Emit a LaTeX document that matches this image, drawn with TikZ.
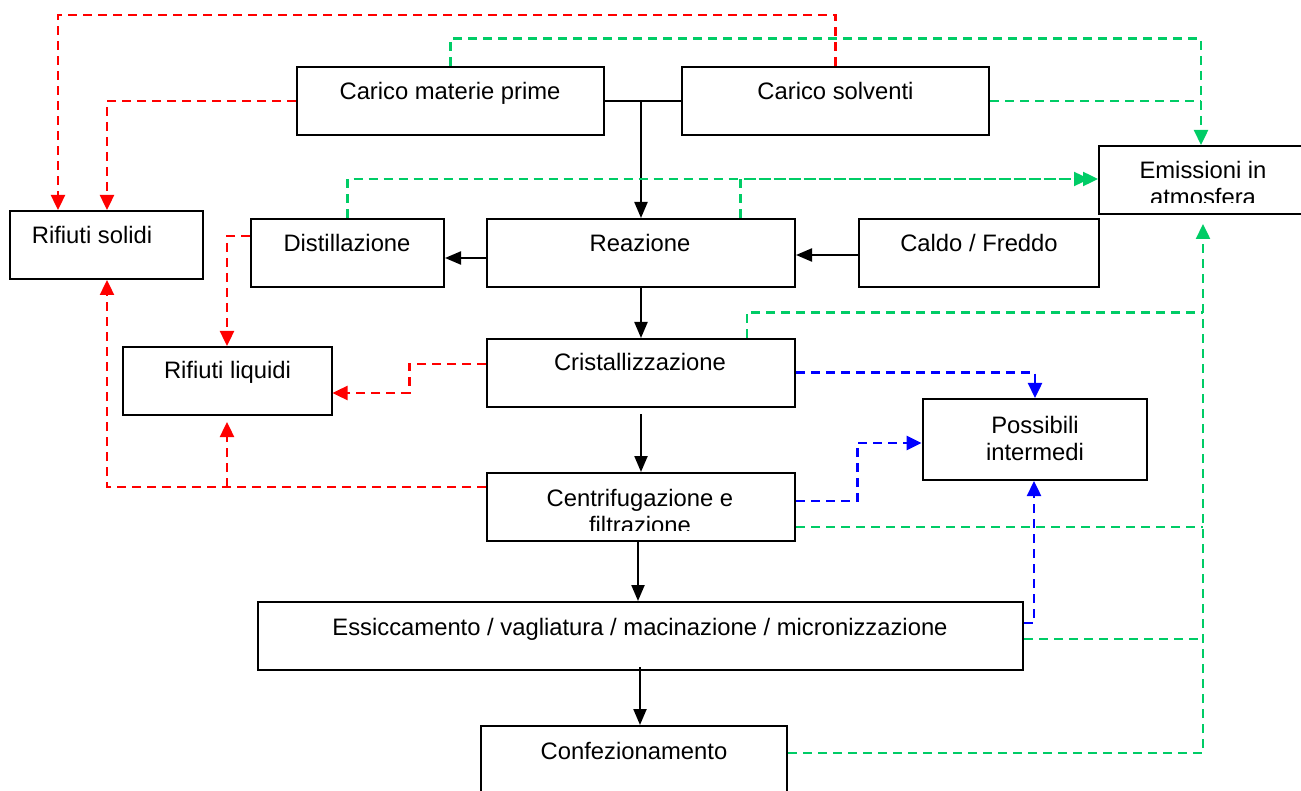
\documentclass[tikz,border=0pt]{standalone}
\usepackage{fontspec}
\setmainfont{Liberation Sans}
\usetikzlibrary{arrows.meta}
\definecolor{gr}{RGB}{0,204,102}
\begin{document}
\begin{tikzpicture}[x=1pt,y=-1pt,
  box/.style={draw, line width=2pt, inner sep=0pt},
  txt/.style={inner sep=0pt, anchor=base, font=\fontsize{23.8}{27}\selectfont},
  flow/.style={line width=2.2pt, -{Triangle[length=16pt,width=13pt]}},
  plain/.style={line width=2.2pt},
  rd/.style={draw=red, line width=2.4pt, dash pattern=on 9pt off 6pt},
  gd/.style={draw=gr, line width=2.4pt, dash pattern=on 9pt off 6pt},
  bd/.style={draw=blue, line width=2.4pt, dash pattern=on 9pt off 6pt},
  tipr/.style={-{Triangle[length=15pt,width=14pt]}},
]
\useasboundingbox (0,0) rectangle (1301,791);
\clip (0,0) rectangle (1301,791);

% boxes
\node[box, minimum width=307pt, minimum height=68pt] (cmp) at (450.5,101) {};
\node[box, minimum width=307pt, minimum height=68pt] (cs) at (835.5,101) {};
\node[box, minimum width=193pt, minimum height=68pt] (rs) at (106.5,245) {};
\node[box, minimum width=193pt, minimum height=68pt] (dist) at (347.5,253) {};
\node[box, minimum width=308pt, minimum height=68pt] (rea) at (641,253) {};
\node[box, minimum width=240pt, minimum height=68pt] (cf) at (979,253) {};
\node[box, minimum width=211pt, minimum height=68pt] (em) at (1204.5,180) {};
\node[box, minimum width=308pt, minimum height=68pt] (cri) at (641,373) {};
\node[box, minimum width=208.5pt, minimum height=68pt] (rl) at (227.25,381) {};
\node[box, minimum width=224pt, minimum height=81pt] (pi) at (1034.6,439.5) {};
\node[box, minimum width=308pt, minimum height=68pt] (cen) at (641,507) {};
\node[box, minimum width=765pt, minimum height=68pt] (ess) at (640.5,636) {};
\node[box, minimum width=306pt, minimum height=68pt] (conf) at (634,760) {};

% texts
\node[txt] (tcmp) at (450,100) {Carico materie prime};
\node[txt] (tcs) at (835.5,100) {Carico solventi};
\node[txt] (trs) at (92,244) {Rifiuti solidi};
\node[txt] (tdist) at (347,252) {Distillazione};
\node[txt] (trea) at (640,252) {Reazione};
\node[txt] (tcf) at (979,252) {Caldo / Freddo};
\node[txt] (tem1) at (1203,179) {Emissioni in};
\begin{scope}
\clip (1100,147) rectangle (1301,203);
\node[txt] (tem2) at (1203,206) {atmosfera};
\end{scope}
\node[txt] (tcri) at (640,371) {Cristallizzazione};
\node[txt] (trl) at (227.5,379) {Rifiuti liquidi};
\node[txt] (tpi1) at (1035,433) {Possibili};
\node[txt] (tpi2) at (1035,460) {intermedi};
\node[txt] (tcen1) at (640,506) {Centrifugazione e};
\begin{scope}
\clip (488,474) rectangle (794,530);
\node[txt] (tcen2) at (640,533) {filtrazione};
\end{scope}
\node[txt] (tess) at (640,635) {Essiccamento / vagliatura / macinazione / micronizzazione};
\node[txt] (tconf) at (634,759) {Confezionamento};

% black flow
\draw[plain] (cmp.east) -- (cs.west);
\draw[flow] (641,101) -- (rea.north);
\draw[flow] (rea.west |- 0,258) -- (dist.east |- 0,258);
\draw[flow] (cf.west |- 0,255) -- (rea.east |- 0,255);
\draw[flow] (rea.south) -- (cri.north);
\draw[flow, shorten <=6pt] (cri.south) -- (cen.north);
\draw[flow] (638,0 |- cen.south) -- (638,0 |- ess.north);
\draw[flow] (640,667) -- (640,0 |- conf.north);

% red dashed
\draw[rd, tipr] (cs.north) -- (835.5,15) -- (58,15) -- (58,0 |- rs.north);
\draw[rd, tipr] (cmp.west) -- (107,101) -- (107,0 |- rs.north);
\draw[rd, tipr] (dist.west |- 0,236) -- (227,236) -- (227,0 |- rl.north);
\draw[rd, tipr] (cri.west |- 0,364) -- (409.5,364) -- (409.5,393) -- (rl.east |- 0,393);
\draw[rd, tipr] (cen.west |- 0,487) -- (107,487) -- (107,0 |- rs.south);
\draw[rd, tipr, shorten >=6pt] (227,487) -- (227,0 |- rl.south);

% green dashed
\draw[gd, tipr] (cmp.north) -- (450.5,38.7) -- (1201,38.7) -- (1201,0 |- em.north);
\draw[gd] (cs.east) -- (1201,101);
\draw[gd, tipr] (dist.north) -- (347.5,179) -- (em.west |- 0,179);
\draw[gd, tipr] (740.5,0 |- rea.north) -- (740.5,179) -- (1089,179);
\draw[gd, tipr, shorten >=9pt] (conf.east |- 0,753) -- (1203,753) -- (1203,0 |- em.south);
\draw[gd] (746.7,0 |- cri.north) -- (746.7,312.7) -- (1203,312.7);
\draw[gd] (cen.east |- 0,527) -- (1203,527);
\draw[gd] (ess.east |- 0,639) -- (1203,639);

% blue dashed
\draw[bd, tipr] (cri.east |- 0,372.7) -- (1035,372.7) -- (1035,0 |- pi.north);
\draw[bd, tipr] (cen.east |- 0,500.7) -- (857.5,500.7) -- (857.5,443) -- (pi.west |- 0,443);
\draw[bd, tipr] (ess.east |- 0,623) -- (1034,623) -- (1034,0 |- pi.south);
\end{tikzpicture}
\end{document}
